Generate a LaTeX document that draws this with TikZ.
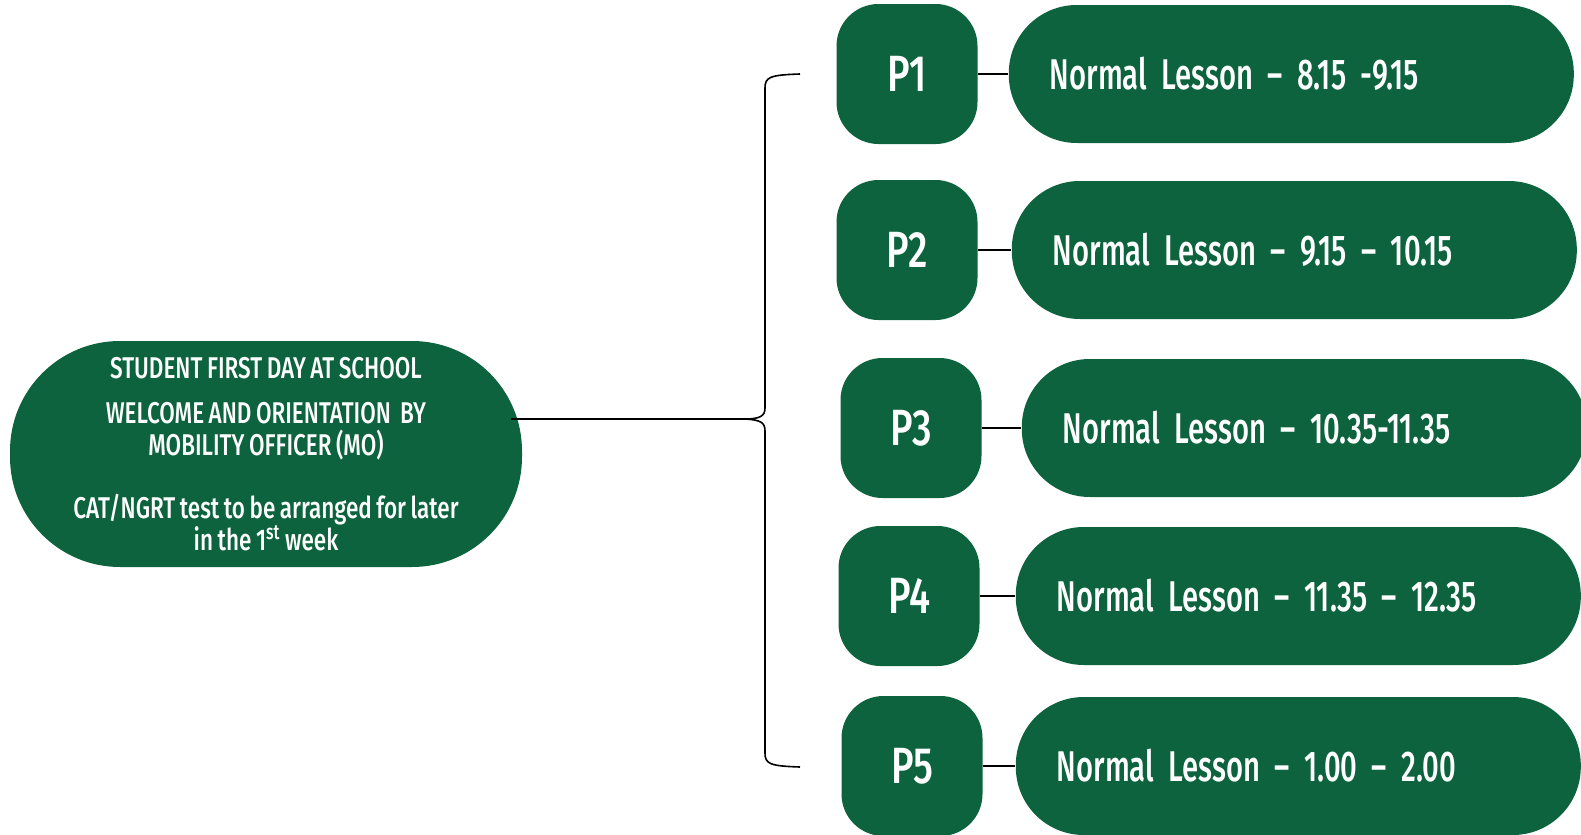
\documentclass[tikz,border=0pt]{standalone}
\usepackage{fontspec}
\setmainfont{Fira Sans}[FakeStretch=0.75, WordSpace=0.8, BoldFont={Fira Sans Medium}]
\newfontfamily\lessonfamily{Fira Sans Medium}[FakeStretch=0.68]
\newcommand{\lessonfont}{\lessonfamily\fontsize{21.5}{24}\selectfont\spaceskip=1.5pt\relax}
\usetikzlibrary{calc}
\definecolor{cgreen}{HTML}{0C633D}
\tikzset{
  every picture/.style={line width=0.8pt},
  greenbox/.style={fill=cgreen, text=white, font=\bfseries, inner sep=0pt},
  startbox/.style={greenbox, minimum width=256pt, minimum height=113pt, rounded corners=55pt, align=center, font=\bfseries\fontsize{15}{16}\selectfont},
  periodbox/.style={greenbox, minimum width=70.5pt, minimum height=70pt, rounded corners=21pt, font=\bfseries\fontsize{25.5}{28}\selectfont},
  lessonbox/.style={greenbox, anchor=west, minimum width=282.5pt, minimum height=69pt, rounded corners=34pt, inner xsep=20.5pt, text width=241.5pt, align=left, font=\lessonfont},
  link/.style={draw=black, line width=0.8pt},
}
\begin{document}
\begin{tikzpicture}[x=0.5pt, y=-0.5pt]
  \useasboundingbox (0,0) rectangle (1581,835);

  % first day
  \node[startbox] (start) at (266,454) {STUDENT FIRST DAY AT SCHOOL\\[6.5pt]
    WELCOME AND ORIENTATION\ \ BY\\MOBILITY OFFICER (MO)\\[15.5pt]
    CAT/NGRT test to be arranged for later\\in the 1\textsuperscript{st} week};

  % periods
  \node[periodbox] (p1) at (907,74) {P1};
  \node[periodbox] (p2) at (907,250) {P2};
  \node[periodbox] (p3) at (911,428) {P3};
  \node[periodbox] (p4) at (909,596) {P4};
  \node[periodbox] (p5) at (912,766) {P5};

  % lessons
  \node[lessonbox] (l1) at (1008,74) {Normal Lesson – 8.15 -9.15};
  \node[lessonbox] (l2) at (1011,250) {Normal Lesson – 9.15 – 10.15};
  \node[lessonbox] (l3) at (1021,428) {Normal Lesson – 10.35-11.35};
  \node[lessonbox] (l4) at (1015,596) {Normal Lesson – 11.35 – 12.35};
  \node[lessonbox] (l5) at (1015,766) {Normal Lesson – 1.00 – 2.00};
  \foreach \i in {1,...,5}
    \draw[link] (p\i.east) -- (p\i.east -| l\i.west);

  % brace
  \coordinate (tip) at (745,419);
  \coordinate (stem) at ($(start.east |- tip)+(-12,0)$);
  \coordinate (btop) at (800,74);
  \coordinate (bbot) at (800,767);
  \draw[link] (stem) -- (tip);
  \draw[link] (btop) .. controls (770,75) and (765,77) .. (765,88) -- (765,408)
    .. controls (765,416) and (760,419) .. (tip)
    .. controls (760,420) and (765,422) .. (765,431) -- (765,753)
    .. controls (765,764) and (770,766) .. (bbot);
\end{tikzpicture}
\end{document}
